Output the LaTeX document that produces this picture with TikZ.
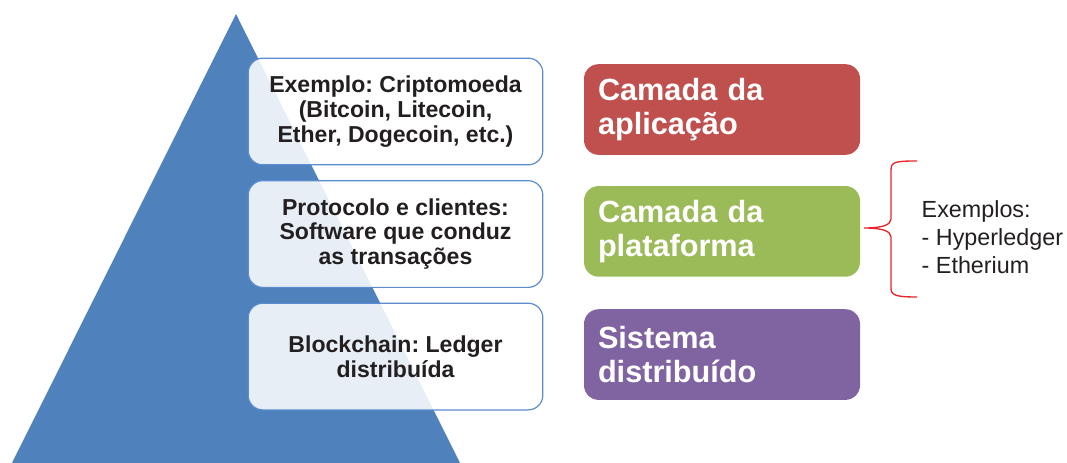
\documentclass[tikz,border=0pt]{standalone}
\usepackage{fontspec}
\setmainfont{Liberation Sans}
\usepackage{tikz}
\usetikzlibrary{positioning}
\definecolor{pyrblue}{HTML}{4F81BD}
\definecolor{boxline}{HTML}{5A8CCF}
\definecolor{appred}{HTML}{C0504D}
\definecolor{platgreen}{HTML}{9BBB59}
\definecolor{sysviolet}{HTML}{8064A2}
\definecolor{textgray}{HTML}{231F20}
\definecolor{bracered}{HTML}{E8242B}
\frenchspacing

\begin{document}
\begin{tikzpicture}[
    x=0.75pt, y=-0.75pt,
    layer/.style={draw=boxline, line width=0.9pt, rounded corners=11pt, fill=white, fill opacity=0.87, text opacity=1,
      minimum width=221pt, minimum height=80pt, align=center, text=textgray,
      font=\bfseries\fontsize{17.3}{18.6}\selectfont},
    tier/.style={rounded corners=11pt, minimum width=207pt, minimum height=68pt, text width=186pt,
      align=left, text=white, font=\bfseries\fontsize{23}{25.5}\selectfont},
    brace/.style={draw=bracered, line width=1pt}
  ]
  \useasboundingbox (0,0) rectangle (1067,463);

  % Pyramid
  \fill[pyrblue] (236,14) -- (460,463) -- (12,463) -- cycle;

  % Left boxes
  \node[layer] (crypto) at (395.5,111.5) {Exemplo: Criptomoeda\\(Bitcoin, Litecoin,\\Ether, Dogecoin, etc.)};
  \node[layer, below=11pt of crypto] (protocol) {Protocolo e clientes:\\Software que conduz\\as transações};
  \node[layer, below=11pt of protocol] (ledger) {Blockchain: Ledger\\distribuída};

  % Right boxes
  \node[tier, fill=appred] (app) at (722,109.5) {Camada da\\aplicação};
  \node[tier, fill=platgreen, below=23pt of app] (platform) {Camada da\\plataforma};
  \node[tier, fill=sysviolet, below=24pt of platform] (system) {Sistema\\distribuído};

  % Examples
  \draw[brace] (917,161) .. controls (895,161) and (891,162) .. (891,170) -- (891,219)
    .. controls (891,225) and (882,228) .. (864,228)
    .. controls (882,228) and (891,231) .. (891,237) -- (891,288)
    .. controls (891,295) and (895,297) .. (917,297);
  \node[anchor=west, align=left, text=textgray, font=\fontsize{17.5}{21}\selectfont] (examples) at (917,237)
    {Exemplos:\\- Hyperledger\\- Etherium};

\end{tikzpicture}
\end{document}
